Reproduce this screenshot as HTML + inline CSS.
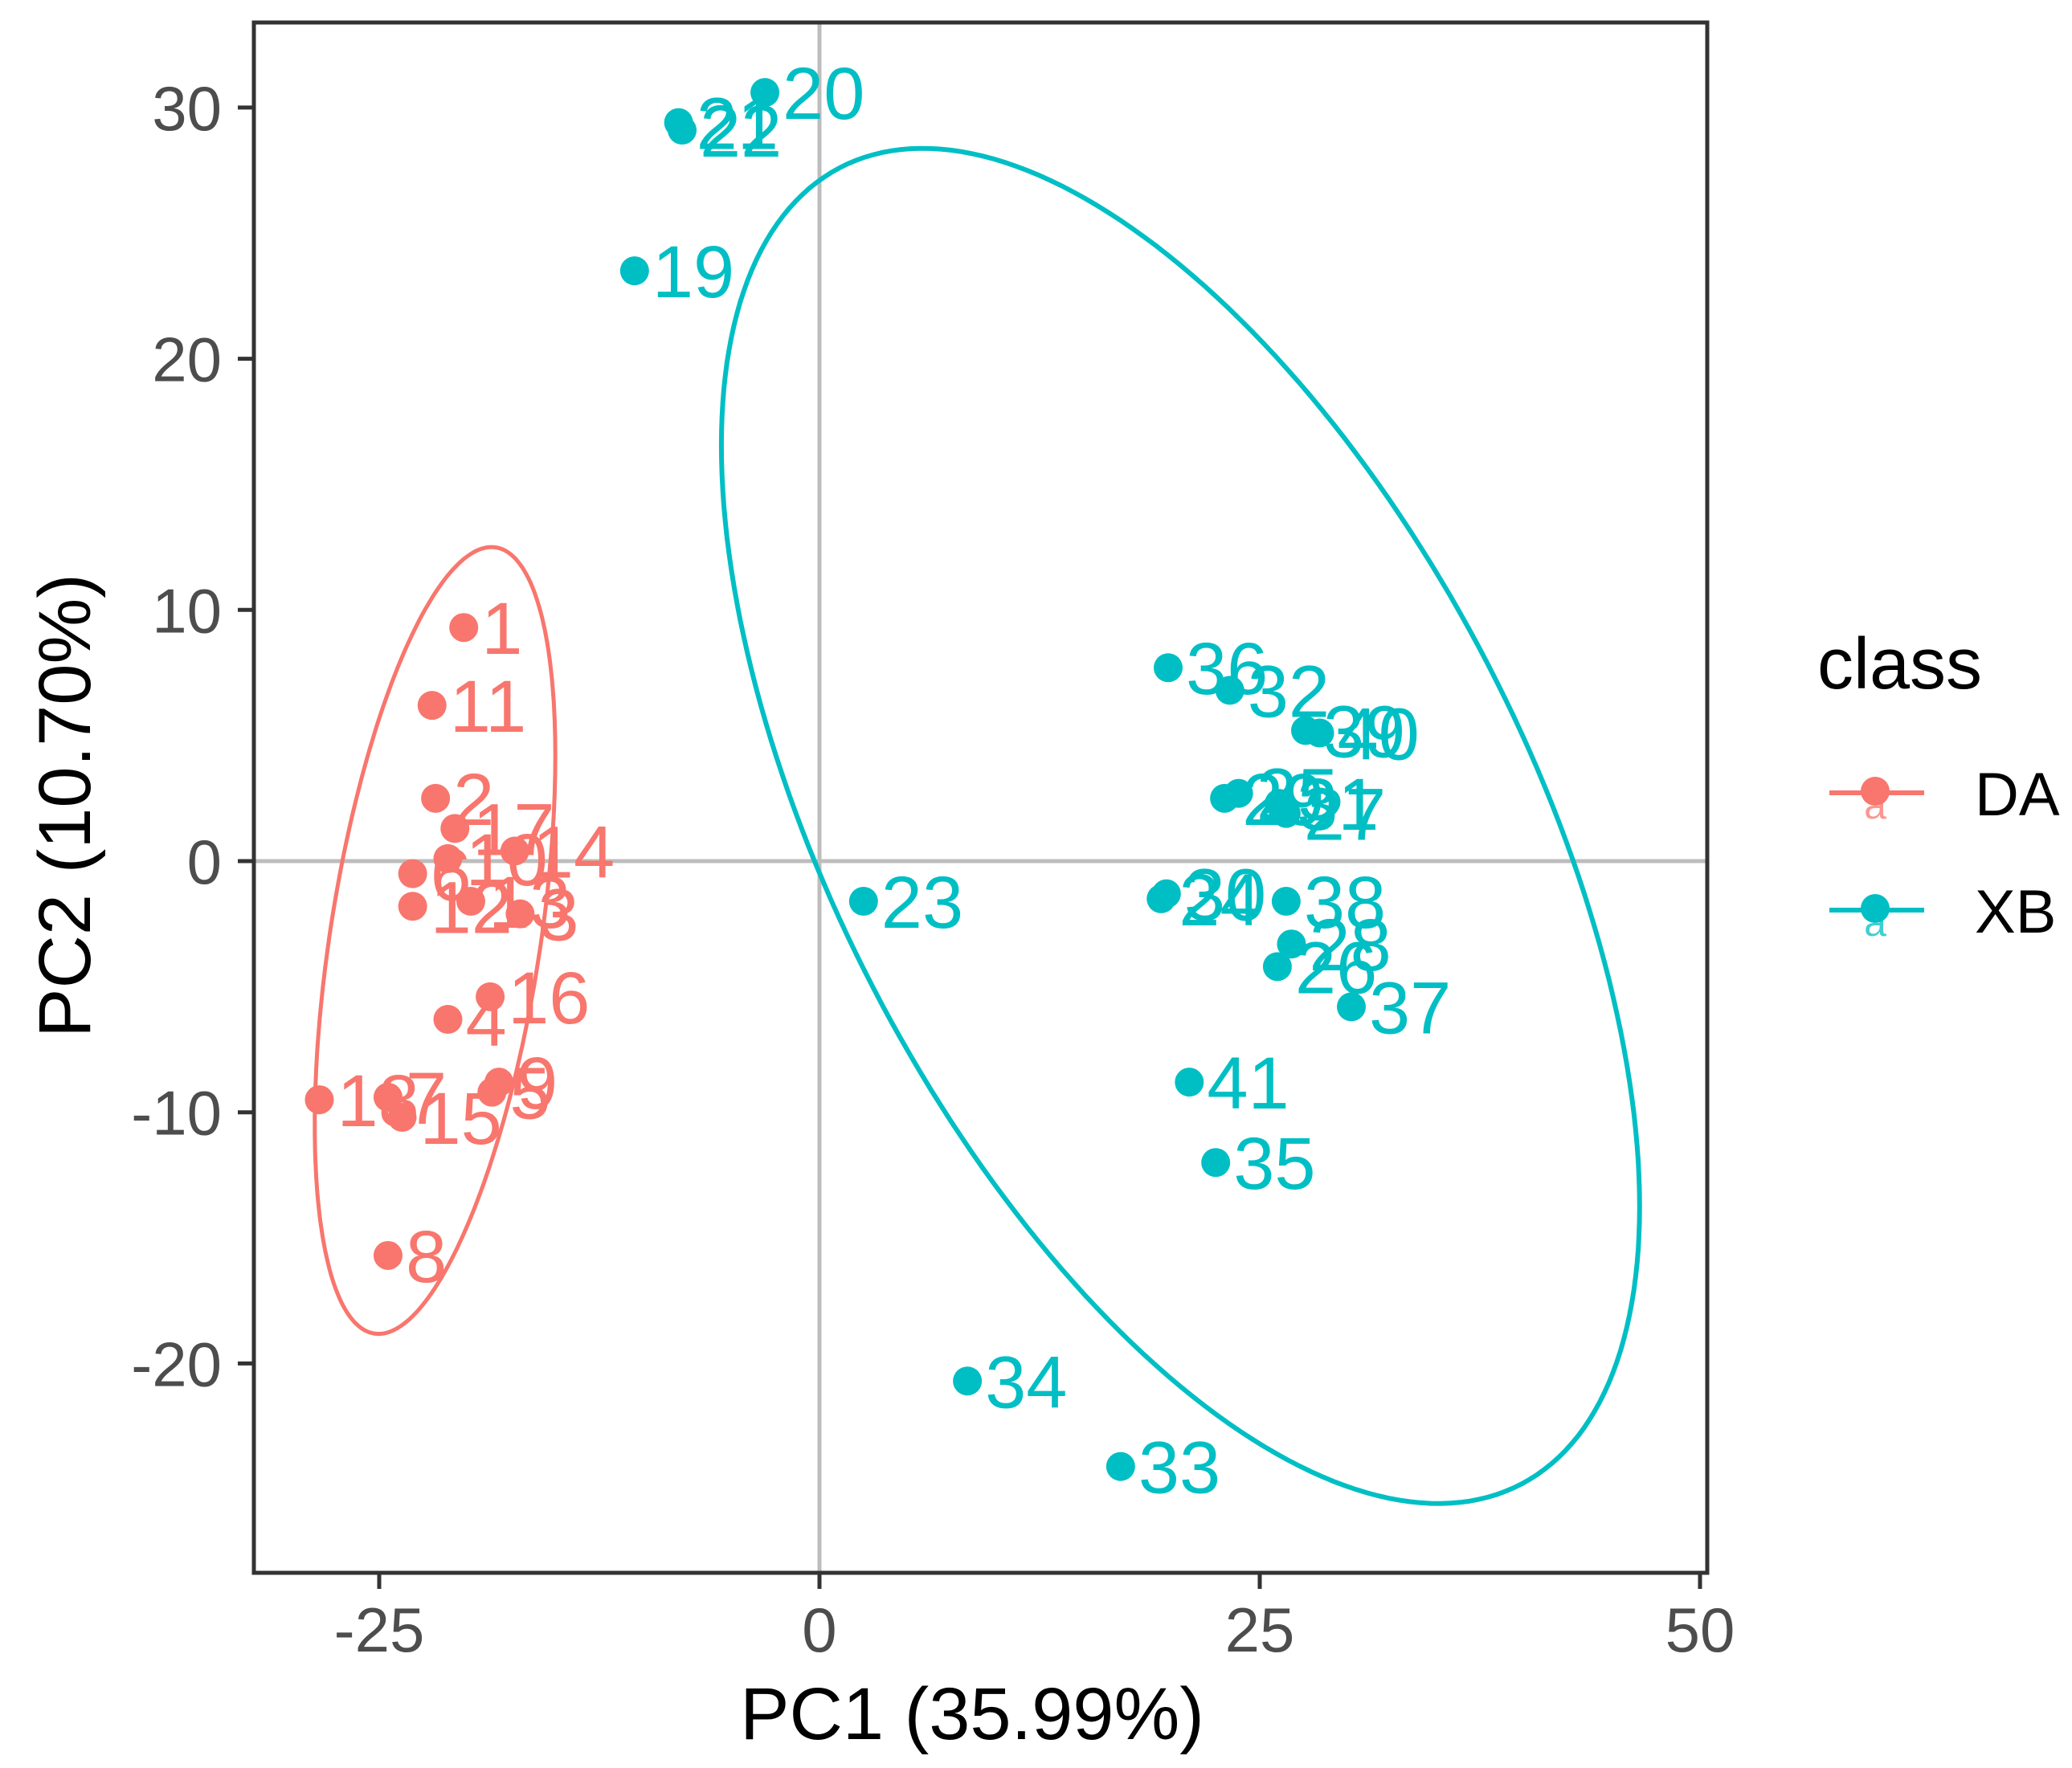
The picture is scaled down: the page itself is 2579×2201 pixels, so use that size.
<!DOCTYPE html>
<html><head><meta charset="utf-8"><style>
html,body{margin:0;padding:0;background:#fff;}
svg{display:block;font-family:"Liberation Sans",sans-serif;}
</style></head><body>
<svg id="chart" width="2579" height="2201" viewBox="0 0 2579 2201" xmlns="http://www.w3.org/2000/svg">
<rect x="0" y="0" width="2579" height="2201" fill="#fff"/>
<g id="panel"></g>
<g id="axes"></g>
<g id="legend"></g>
</svg>
<script>
const daLabels = ["1","11","2","17","10","6","12","13","14","3","16","4","18","7","15","9","5","8"];
const daPC1 = [-20.2,-22.0,-21.8,-20.7,-21.1,-23.1,-23.1,-19.8,-17.3,-17.0,-18.7,-21.1,-28.4,-24.5,-23.7,-18.2,-18.6,-24.5];
const daPC2 = [9.3,6.2,2.5,1.3,0.1,-0.5,-1.8,-1.6,0.4,-2.1,-5.4,-6.3,-9.5,-9.4,-10.2,-8.8,-9.2,-15.7];
const xbLabels = ["20","21","22","19","23","36","32","39","40","29","25","31","27","24","30","38","28","26","37","41","35","34","33"];
const xbPC1 = [-3.1,-8.0,-7.8,-10.5,2.5,19.8,23.3,27.6,28.4,23.0,23.8,26.1,26.5,19.4,19.7,26.5,26.8,26.0,30.2,21.0,22.5,8.4,17.1];
const xbPC2 = [30.6,29.4,29.1,23.5,-1.6,7.7,6.8,5.2,5.1,2.5,2.7,2.3,1.9,-1.5,-1.3,-1.6,-3.3,-4.2,-5.8,-8.8,-12.0,-20.7,-24.1];
// ellipse params in data units: center, cos-term vector, sin-term vector
const daEllipse = [-21.83,-3.16, 6.83,7.35, 0,-13.83];
const xbEllipse = [20.5,1.4, 26.07,-15.15, 0,-22.32];
const xTicks = [-25,0,25,50];
const yTicks = [-20,-10,0,10,20,30];

const NS="http://www.w3.org/2000/svg";
const L=316,R=2125,T=28,B=1958;
const sx=v=>1020+21.92*v;
const sy=v=>1072-31.27*v;
const DA="#F8766D", XB="#00BFC4";
function mk(tag,attrs,parent){const e=document.createElementNS(NS,tag);for(const k in attrs)e.setAttribute(k,attrs[k]);parent.appendChild(e);return e;}
const panel=document.getElementById('panel'), axes=document.getElementById('axes'), legend=document.getElementById('legend');

let zx=mk('line',{x1:sx(0),x2:sx(0),y1:T,y2:B,stroke:"#bdbdbd","stroke-width":5},panel);


let zy=mk('line',{x1:L,x2:R,y1:sy(0),y2:sy(0),stroke:"#bdbdbd","stroke-width":5},panel);



function ellipsePath(p){let d="";for(let i=0;i<=240;i++){const t=i/240*2*Math.PI;const x=p[0]+p[2]*Math.cos(t)+p[4]*Math.sin(t);const y=p[1]+p[3]*Math.cos(t)+p[5]*Math.sin(t);d+=(i?"L":"M")+sx(x).toFixed(1)+","+sy(y).toFixed(1);}return d+"Z";}
let e1=mk('path',{d:ellipsePath(daEllipse),fill:"none",stroke:DA,"stroke-width":5},panel);


let e2=mk('path',{d:ellipsePath(xbEllipse),fill:"none",stroke:XB,"stroke-width":6},panel);



function drawGroup(labels,xs,ys,col,name){
  for(let i=0;i<labels.length;i++){
    const c=mk('circle',{cx:sx(xs[i]),cy:sy(ys[i]),r:18,fill:col},panel);
    
    
  }
  for(let i=0;i<labels.length;i++){
    const t=mk('text',{x:sx(xs[i])+22,y:sy(ys[i])+33,fill:col,"font-size":92},panel);
    t.textContent=labels[i];
    
    
  }
}
drawGroup(daLabels,daPC1,daPC2,DA,'da');
drawGroup(xbLabels,xbPC1,xbPC2,XB,'xb');

let border=mk('rect',{x:L,y:T,width:R-L,height:B-T,fill:"none",stroke:"#333","stroke-width":5},axes);



xTicks.forEach(v=>{
  const tk=mk('line',{x1:sx(v),x2:sx(v),y1:B,y2:B+20,stroke:"#333","stroke-width":5},axes);
  
  
  const t=mk('text',{x:sx(v),y:2056,"text-anchor":"middle",fill:"#4d4d4d","font-size":78},axes);
  t.textContent=v;
  
  
});
yTicks.forEach(v=>{
  const tk=mk('line',{x1:L-20,x2:L,y1:sy(v),y2:sy(v),stroke:"#333","stroke-width":5},axes);
  
  
  const t=mk('text',{x:276,y:sy(v)+28,"text-anchor":"end",fill:"#4d4d4d","font-size":78},axes);
  t.textContent=v;
  
  
});
let xt=mk('text',{x:1210,y:2165,"text-anchor":"middle",fill:"#000","font-size":92},axes);
xt.textContent="PC1 (35.99%)";


let yt=mk('text',{x:0,y:0,"text-anchor":"middle",fill:"#000","font-size":92,transform:"translate(112,1003) rotate(-90)"},axes);
yt.textContent="PC2 (10.70%)";



let lt=mk('text',{x:2262,y:857,fill:"#000","font-size":90},legend);
lt.textContent="class";


[["DA",DA,987],["XB",XB,1133]].forEach(([lab,col,y])=>{
  const g=mk('g',{},legend);
  
  
  mk('line',{x1:2277,x2:2395,y1:y,y2:y,stroke:col,"stroke-width":6},g);
  mk('circle',{cx:2334,cy:y-2,r:18,fill:col},g);
  const a=mk('text',{x:2334,y:y+32,"text-anchor":"middle",fill:col,"font-size":50,opacity:0.75},g);
  a.textContent="a";
  const t=mk('text',{x:2458,y:y+28,fill:"#000","font-size":76},g);
  t.textContent=lab;
});
</script>
</body></html>
